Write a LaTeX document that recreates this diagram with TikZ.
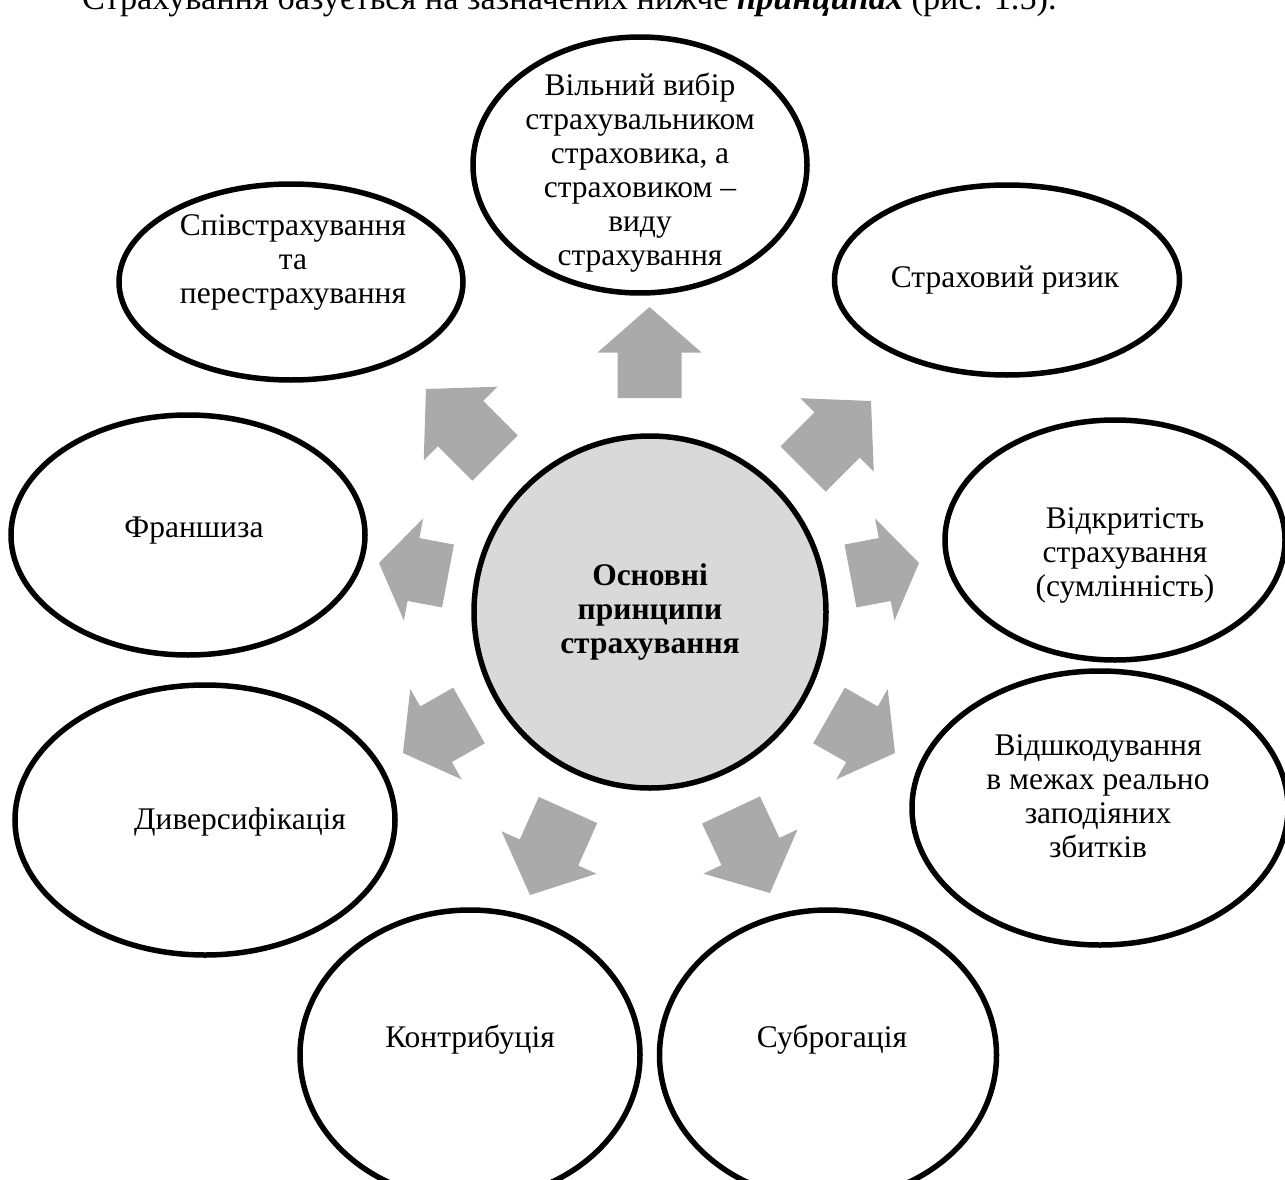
\documentclass[tikz,border=0pt]{standalone}
\usepackage{fontspec}
\setmainfont{Liberation Serif}
\usetikzlibrary{calc,shapes.geometric}
\definecolor{arrowgray}{RGB}{170,170,170}
\definecolor{hubgray}{RGB}{217,217,217}
\tikzset{
  ell/.style={draw=black, line width=5.5pt, ellipse, inner sep=0pt, fill=white},
  hub/.style={draw=black, line width=5.5pt, circle, inner sep=0pt, fill=hubgray},
  lbl/.style={align=center, inner sep=0pt, font=\fontsize{31.5}{34}\selectfont},
}
\newcommand{\barrow}[3]{%
  \coordinate (#1a) at #2; \coordinate (#1b) at #3;
  \coordinate (#1m) at ($(#1a)!0.5!(#1b)$);
  \fill[arrowgray] ($(#1a)!32pt!90:(#1b)$) -- ($(#1m)!32pt!90:(#1b)$) -- ($(#1m)!52pt!90:(#1b)$) -- (#1b) -- ($(#1m)!52pt!-90:(#1b)$) -- ($(#1m)!32pt!-90:(#1b)$) -- ($(#1a)!32pt!-90:(#1b)$) -- cycle;
}
\begin{document}
\begin{tikzpicture}[x=1pt,y=-1pt]
\clip (0,0) rectangle (1285,1180);
\fill[white] (0,0) rectangle (1285,1180);
% header line (cut at top)
\node[anchor=base west, inner sep=0pt, font=\fontsize{34.3}{38}\selectfont] (head) at (82,10) {Страхування базується на зазначених нижче \textbf{\textit{принципах}} (рис. 1.5).};
% ellipses
\node[ell, minimum width=334, minimum height=256] (e1) at (640,165) {};
\node[ell, minimum width=344, minimum height=196] (e2) at (291,282) {};
\node[ell, minimum width=345, minimum height=190] (e3) at (1007,280) {};
\node[ell, minimum width=354, minimum height=240] (e4) at (188,535) {};
\node[ell, minimum width=340, minimum height=240] (e5) at (1115,540) {};
\node[ell, minimum width=380, minimum height=270] (e6) at (205,820) {};
\node[ell, minimum width=376, minimum height=274] (e7) at (1100,808) {};
\node[ell, minimum width=340, minimum height=290] (e8) at (470,1055) {};
\node[ell, minimum width=337, minimum height=290] (e9) at (828,1055) {};
\node[hub, minimum size=352] (hub) at (650,612) {};
% labels
\node[lbl] (t1) at (640,173) {Вільний вибір\\страхувальником\\страховика, а\\страховиком –\\виду\\страхування};
\node[lbl] (t2) at (293,262) {Співстрахування\\та\\перестрахування};
\node[lbl] (t3) at (1005,280) {Страховий ризик};
\node[lbl] (t4) at (194,531) {Франшиза};
\node[lbl] (t5) at (1125,555) {Відкритість\\страхування\\(сумлінність)};
\node[lbl, font=\fontsize{31.5}{34}\selectfont\bfseries] (t0) at (650,612) {Основні\\принципи\\страхування};
\node[lbl] (t6) at (240,822) {Диверсифікація};
\node[lbl] (t7) at (1098,796) {Відшкодування\\в межах реально\\заподіяних\\збитків};
\node[lbl] (t8) at (470,1040) {Контрибуція};
\node[lbl] (t9) at (832,1040) {Суброгація};
% arrows
\barrow{a1}{(649.5,398)}{(649.5,307)}
\barrow{a2}{(803,469)}{(871,401)}
\barrow{a3}{(850.5,576)}{(919,563)}
\barrow{a4}{(829,715.5)}{(895,753)}
\barrow{a5}{(731,810)}{(770,893)}
\barrow{a6}{(568,810)}{(530,895)}
\barrow{a7}{(469,715.5)}{(403,753)}
\barrow{a8}{(448,576)}{(379,563)}
\barrow{a9}{(495,458)}{(426,389)}
\end{tikzpicture}
\end{document}
